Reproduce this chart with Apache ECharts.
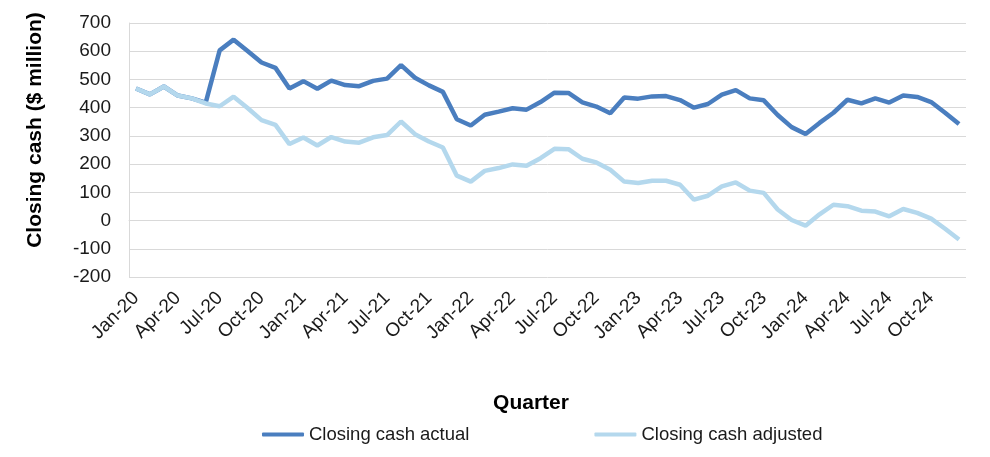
<!DOCTYPE html>
<html>
<head>
<meta charset="utf-8">
<script src="https://cdn.jsdelivr.net/npm/echarts@6/dist/echarts.min.js"></script>
<style>
  html, body { margin: 0; padding: 0; background: #fff; }
  #chart { width: 990px; height: 457px; }
</style>
</head>
<body>
<div id="chart"></div>
<script>
// months Jan-20 .. Dec-24
var monthNames = ['Jan','Feb','Mar','Apr','May','Jun','Jul','Aug','Sep','Oct','Nov','Dec'];
var yearLabels = ['20','21','22','23','24'];

var actual = [
  468, 447, 475, 443, 433, 418, 603, 641, 601, 560, 541, 468,
  494, 467, 496, 480, 476, 495, 503, 551, 506, 479, 456, 359,
  337, 375, 386, 398, 393, 420, 453, 452, 419, 404, 380, 436,
  432, 440, 441, 427, 400, 413, 446, 462, 433, 426, 374, 331,
  307, 346, 382, 428, 415, 433, 418, 443, 438, 420, 382, 342
];
var adjusted = [
  468, 447, 475, 443, 433, 415, 405, 439, 399, 356, 339, 271,
  294, 266, 296, 280, 276, 295, 303, 351, 306, 280, 259, 159,
  138, 176, 186, 199, 194, 221, 254, 253, 219, 206, 180, 138,
  133, 141, 141, 127, 74, 88, 121, 135, 106, 98, 39, 2,
  -18, 22, 56, 51, 35, 32, 15, 41, 27, 7, -29, -67
];

var categories = [];
for (var y = 0; y < yearLabels.length; y++) {
  for (var m = 0; m < monthNames.length; m++) {
    categories.push(monthNames[m] + '-' + yearLabels[y]);
  }
}

var font = "'Liberation Sans', Arial, sans-serif";
var darkBlue = '#4a7ebf';
var lightBlue = '#b4d8ed';

var myChart = echarts.init(document.getElementById('chart'));
var option = {
  animation: false,
  textStyle: { fontFamily: font },
  grid: { left: 129, right: 24, top: 23, bottom: 180 },
  legend: {
    left: 257,
    top: 420,
    itemGap: 125,
    itemWidth: 42,
    itemHeight: 4,
    icon: 'roundRect',
    textStyle: { fontSize: 18.5, color: '#1a1a1a', fontFamily: font },
    data: ['Closing cash actual', 'Closing cash adjusted']
  },
  xAxis: {
    type: 'category',
    data: categories,
    boundaryGap: true,
    axisLine: { show: true, lineStyle: { color: '#d9d9d9', width: 1 } },
    axisTick: { show: false },
    axisLabel: {
      interval: 2,
      rotate: 45,
      margin: 18,
      fontSize: 19,
      color: '#1a1a1a',
      fontFamily: font
    }
  },
  yAxis: {
    type: 'value',
    min: -200,
    max: 700,
    interval: 100,
    axisLine: { show: true, lineStyle: { color: '#d9d9d9', width: 1 } },
    axisTick: { show: false },
    splitLine: { lineStyle: { color: '#d9d9d9', width: 1 } },
    axisLabel: { fontSize: 19, color: '#1a1a1a', margin: 18, fontFamily: font }
  },
  graphic: [
    {
      type: 'text',
      x: 35, y: 130,
      rotation: Math.PI / 2,
      style: {
        text: 'Closing cash ($ million)',
        font: 'bold 21px ' + font,
        fill: '#000',
        textAlign: 'center',
        textVerticalAlign: 'middle'
      }
    },
    {
      type: 'text',
      x: 531, y: 403,
      style: {
        text: 'Quarter',
        font: 'bold 21px ' + font,
        fill: '#000',
        textAlign: 'center',
        textVerticalAlign: 'middle'
      }
    }
  ],
  series: [
    {
      name: 'Closing cash actual',
      type: 'line',
      data: actual,
      symbol: 'none',
      color: darkBlue,
      lineStyle: { color: darkBlue, width: 4.5 }
    },
    {
      name: 'Closing cash adjusted',
      type: 'line',
      data: adjusted,
      symbol: 'none',
      color: lightBlue,
      lineStyle: { color: lightBlue, width: 4.5 }
    }
  ]
};
myChart.setOption(option);
</script>
</body>
</html>
